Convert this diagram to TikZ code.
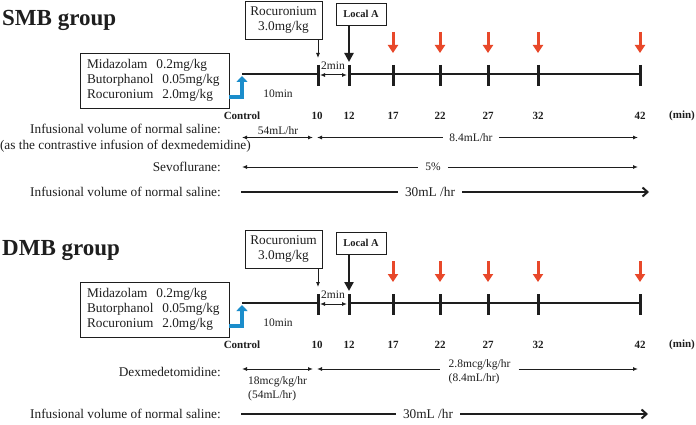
\documentclass[tikz,border=0pt]{standalone}
\usepackage{fontspec}
\setmainfont{Liberation Serif}
\usetikzlibrary{arrows.meta}
\definecolor{arrred}{RGB}{232,72,42}
\definecolor{arrblue}{RGB}{27,141,203}
\definecolor{ink}{RGB}{30,30,30}
\tikzset{
  lbl/.style={font=\fontsize{13.3}{15}\selectfont, inner sep=0pt, text=ink},
  sm/.style={font=\fontsize{11.5}{14}\selectfont, inner sep=0pt, text=ink},
  tm/.style={font=\bfseries\fontsize{11}{13}\selectfont, inner sep=0pt, text=ink},
  ttl/.style={font=\bfseries\fontsize{23}{26}\selectfont, inner sep=0pt, anchor=base west, text=ink},
  boxed/.style={draw=ink, line width=0.8pt},
  tline/.style={line width=2.2pt, draw=ink},
  tickln/.style={line width=3pt, draw=ink},
  redarr/.style={line width=3pt, draw=arrred, -{Triangle[length=8pt,width=10pt]}},
  blackarr/.style={line width=2.6pt, draw=ink, -{Triangle[length=9pt,width=9pt]}},
  pointer/.style={line width=0.8pt, draw=ink, -{Latex[length=5pt,width=4pt]}},
  bluearr/.style={line width=4pt, draw=arrblue, -{Triangle[length=6pt,width=11pt]}},
  thinarr/.style={line width=1pt, draw=ink, >={Latex[length=5pt,width=4pt]}},
  boldarr/.style={line width=2pt, draw=ink, >={Straight Barb[length=5pt,width=9pt,line width=2pt]}},
}
\newcommand\grouptimeline[1]{%
  \node[ttl] (title) at (2,26) {#1};
  \node[boxed, lbl, align=center, minimum width=77pt, minimum height=38pt, inner sep=0pt] (roc) at (283.5,20) {Rocuronium\\3.0mg/kg};
  \node[boxed, font=\bfseries\fontsize{10.5}{12}\selectfont, text=ink, minimum width=50pt, minimum height=22pt, inner sep=0pt] (loca) at (361,14) {Local A};
  \node[boxed, lbl, align=left, text width=135pt, inner xsep=7pt, minimum height=55pt] (drug) at (154.5,80.5) {Midazolam\ \ 0.2mg/kg\\Butorphanol\ \ 0.05mg/kg\\Rocuronium\ \ 2.0mg/kg};
  \coordinate (t0) at (242,74);
  \coordinate (t10) at (318,74);
  \coordinate (t12) at (349,74);
  \coordinate (t17) at (393,74);
  \coordinate (t22) at (440,74);
  \coordinate (t27) at (488,74);
  \coordinate (t32) at (538,74);
  \coordinate (t42) at (640,74);
  \draw[tline] (t0) -- (t10);
  \draw[tline] (t12) -- (t42);
  \draw[thinarr, <->, shorten <=2pt, shorten >=2pt] ([yshift=-1pt]t10) -- ([yshift=-1pt]t12);
  \foreach \t in {t10,t12,t17,t22,t27,t32,t42} \draw[tickln] ([yshift=9pt]\t) -- ([yshift=-12pt]\t);
  \foreach \t in {t17,t22,t27,t32,t42} \draw[redarr] ([yshift=42pt]\t) -- ([yshift=21pt]\t);
  \draw[blackarr] (loca.south -| t12) -- ([yshift=12pt]t12);
  \draw[pointer] (roc.south -| t10) -- ([yshift=16pt]t10);
  \draw[bluearr] ([yshift=11pt]drug.south east) -| ([yshift=-2pt]t0);
  \node[sm] (m2) at (333,66) {2min};
  \node[sm] (m10) at (278,94) {10min};
  \node[tm] (lctrl) at (242,116) {Control};
  \node[tm] (l10) at (317,116) {10};
  \node[tm] (l12) at (349,116) {12};
  \node[tm] (l17) at (393,116) {17};
  \node[tm] (l22) at (440,116) {22};
  \node[tm] (l27) at (488,116) {27};
  \node[tm] (l32) at (538,116) {32};
  \node[tm] (l42) at (640,116) {42};
  \node[tm] (lmin) at (682,116) {(min)};
}
\begin{document}
\begin{tikzpicture}[x=1pt, y=-1pt]
\useasboundingbox[fill=white] (0,0) rectangle (696,425);

\begin{scope}[name prefix=s-]
  \grouptimeline{SMB group}
\end{scope}
\begin{scope}[yshift=-229pt, name prefix=d-]
  \grouptimeline{DMB group}
\end{scope}

% SMB infusions
\node[lbl, anchor=east] (ivs1) at (221,129) {Infusional volume of normal saline:};
\node[lbl, anchor=east] (asc) at (251,146) {(as the contrastive infusion of dexmedemidine)};
\coordinate (p0) at (242,137.5);
\coordinate (p10) at (313,137.5);
\coordinate (p10b) at (317,137.5);
\coordinate (p42) at (638,137.5);
\draw[thinarr, <->] (p0) -- (p10);
\node[sm] (r54) at (278,131) {54mL/hr};
\node[sm, inner xsep=6pt] (r84) at (471,137.5) {8.4mL/hr};
\draw[thinarr, <-] (p10b) -- (r84.west);
\draw[thinarr, ->] (r84.east) -- (p42);

\node[lbl, anchor=east] (sevo) at (221,167) {Sevoflurane:};
\coordinate (q0) at (242,167);
\coordinate (q1) at (638,167);
\node[sm, inner xsep=7pt] (r5) at (433,167) {5\%};
\draw[thinarr, <-] (q0) -- (r5.west);
\draw[thinarr, ->] (r5.east) -- (q1);

\node[lbl, anchor=east] (ivs2) at (221,192) {Infusional volume of normal saline:};
\coordinate (u0) at (241,192);
\coordinate (u1) at (649,192);
\node[lbl, inner xsep=7pt] (r30) at (430,192) {30mL /hr};
\draw[boldarr] (u0) -- (r30.west);
\draw[boldarr, ->] (r30.east) -- (u1);

% DMB infusions
\node[lbl, anchor=east] (dexl) at (221,372) {Dexmedetomidine:};
\coordinate (e0) at (242,369);
\coordinate (e10) at (313,369);
\coordinate (e10b) at (317,369);
\coordinate (e42) at (638,369);
\draw[thinarr, <->] (e0) -- (e10);
\node[sm, align=left, anchor=north west] (r18) at (248,376) {18mcg/kg/hr\\(54mL/hr)};
\node[sm, align=left, inner xsep=8pt] (r28) at (479.5,372) {2.8mcg/kg/hr\\(8.4mL/hr)};
\draw[thinarr, <-] (e10b) -- (r28.west |- e10b);
\draw[thinarr, ->] (r28.east |- e42) -- (e42);

\node[lbl, anchor=east] (ivs3) at (221,414) {Infusional volume of normal saline:};
\coordinate (v0) at (241,414);
\coordinate (v1) at (648,414);
\node[lbl, inner xsep=7pt] (r30b) at (428,414) {30mL /hr};
\draw[boldarr] (v0) -- (r30b.west);
\draw[boldarr, ->] (r30b.east) -- (v1);
\end{tikzpicture}
\end{document}
